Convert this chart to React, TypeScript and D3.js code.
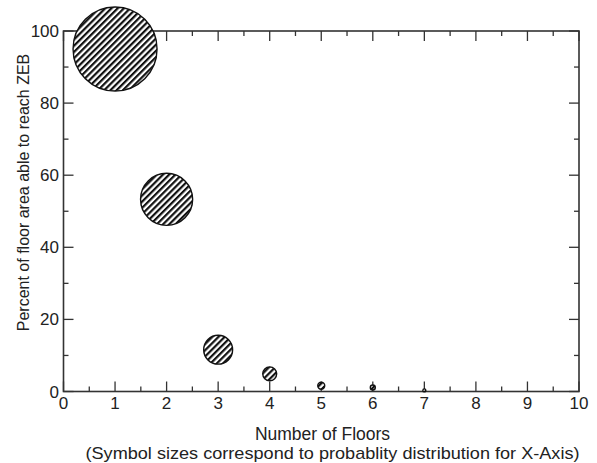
import React from "react";
import * as d3 from "d3";

const floors = [1, 2, 3, 4, 5, 6, 7];
const percentZEB = [95, 53.3, 11.6, 4.9, 1.6, 1.1, 0.3];
const probability = [0.65, 0.25, 0.077, 0.018, 0.0045, 0.0023, 0.0008];
const xTicks = [0, 1, 2, 3, 4, 5, 6, 7, 8, 9, 10];
const yTicks = [0, 20, 40, 60, 80, 100];
const xTitle = "Number of Floors";
const xSubtitle = "(Symbol sizes correspond to probablity distribution for X-Axis)";
const yTitle = "Percent of floor area able to reach ZEB";

const W = 597;
const H = 463;
const left = 63.5;
const right = 579;
const top = 31;
const bottom = 391.5;

export default function App() {
  const x = d3.scaleLinear().domain([0, 10]).range([left, right]);
  const y = d3.scaleLinear().domain([0, 100]).range([bottom, top]);
  const r = d3.scaleSqrt().domain([0, 0.65]).range([0, 42]);
  const xMinor = d3.range(0.5, 10, 1);
  const yMinor = d3.range(10, 100, 20);
  const font = "'Liberation Sans', Arial, Helvetica, sans-serif";
  const axisColor = "#333";
  const major = 10;
  const minor = 5;
  return (
    <svg
      width={W}
      height={H}
      style={{ position: "absolute", left: 0, top: 0, background: "#fff" }}
      fontFamily={font}
    >
      <defs>
        <pattern
          id="hatch"
          patternUnits="userSpaceOnUse"
          width={4.4}
          height={4.4}
          patternTransform="rotate(45)"
        >
          <rect width={4.4} height={4.4} fill="#fff" />
          <rect x={0} y={0} width={2.2} height={4.4} fill="#111" />
        </pattern>
      </defs>
      <rect x={0} y={0} width={W} height={H} fill="#fff" />
      <rect
        x={left}
        y={top}
        width={right - left}
        height={bottom - top}
        fill="none"
        stroke={axisColor}
        strokeWidth={1.6}
      />
      {xTicks.map((t) => (
        <g key={"xt" + t} stroke={axisColor} strokeWidth={1.3}>
          <line x1={x(t)} x2={x(t)} y1={bottom} y2={bottom - major} />
          <line x1={x(t)} x2={x(t)} y1={top} y2={top + major} />
        </g>
      ))}
      {xMinor.map((t) => (
        <g key={"xm" + t} stroke={axisColor} strokeWidth={1.3}>
          <line x1={x(t)} x2={x(t)} y1={bottom} y2={bottom - minor} />
          <line x1={x(t)} x2={x(t)} y1={top} y2={top + minor} />
        </g>
      ))}
      {yTicks.map((t) => (
        <g key={"yt" + t} stroke={axisColor} strokeWidth={1.3}>
          <line x1={left} x2={left + major} y1={y(t)} y2={y(t)} />
          <line x1={right} x2={right - major} y1={y(t)} y2={y(t)} />
        </g>
      ))}
      {yMinor.map((t) => (
        <g key={"ym" + t} stroke={axisColor} strokeWidth={1.3}>
          <line x1={left} x2={left + minor} y1={y(t)} y2={y(t)} />
          <line x1={right} x2={right - minor} y1={y(t)} y2={y(t)} />
        </g>
      ))}
      {xTicks.map((t) => (
        <text
          key={"xl" + t}
          x={x(t)}
          y={409}
          textAnchor="middle"
          fontSize={17}
          fill="#222"
        >
          {t}
        </text>
      ))}
      {yTicks.map((t) => (
        <text
          key={"yl" + t}
          x={59}
          y={y(t) + 6}
          textAnchor="end"
          fontSize={17}
          fill="#222"
        >
          {t}
        </text>
      ))}
      {floors.map((f, i) => (
        <circle
          key={"b" + f}
          cx={x(f)}
          cy={y(percentZEB[i])}
          r={Math.max(r(probability[i]), 1.5)}
          fill="url(#hatch)"
          stroke="#111"
          strokeWidth={1.4}
        />
      ))}
      <text
        x={322.5}
        y={439.5}
        textAnchor="middle"
        fontSize={17.5}
        fill="#222"
      >
        {xTitle}
      </text>
      <text
        x={332.5}
        y={459}
        textAnchor="middle"
        fontSize={17}
        textLength={494}
        lengthAdjust="spacingAndGlyphs"
        fill="#222"
      >
        {xSubtitle}
      </text>
      <text
        transform={`translate(29, 192.5) rotate(-90)`}
        textAnchor="middle"
        fontSize={16}
        fill="#222"
      >
        {yTitle}
      </text>
    </svg>
  );
}
